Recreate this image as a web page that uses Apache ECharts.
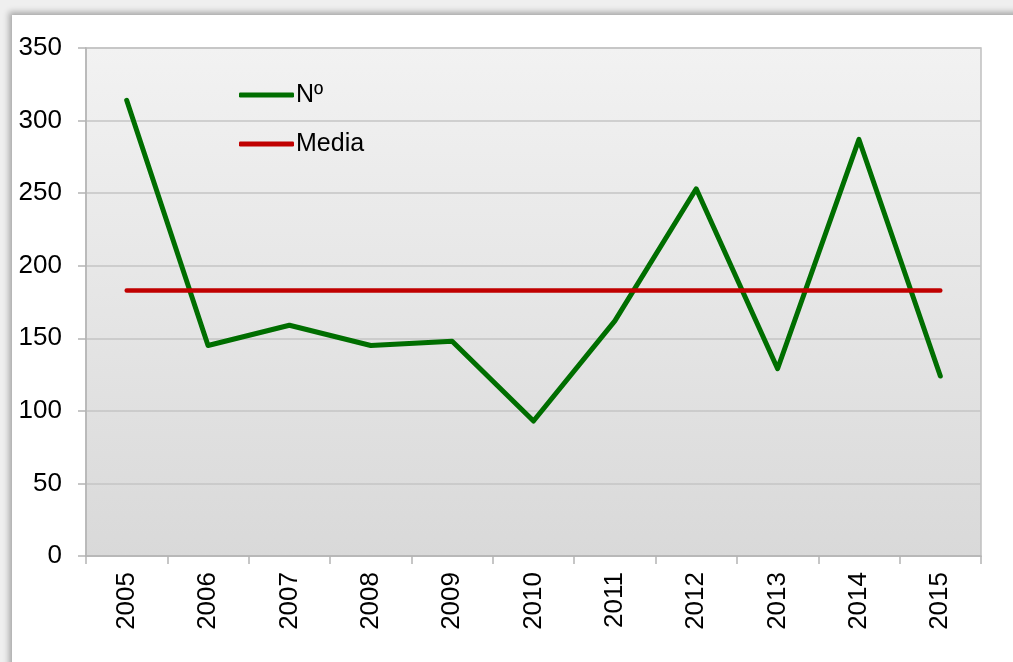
<!DOCTYPE html>
<html>
<head>
<meta charset="utf-8">
<script src="https://cdn.jsdelivr.net/npm/echarts@6/dist/echarts.min.js"></script>
<style>
  html, body { margin: 0; padding: 0; width: 1013px; height: 662px; overflow: hidden; background: #efefef; }
  #frame {
    position: absolute; left: 12px; top: 15px; width: 1010px; height: 660px;
    background: #fff;
    box-shadow: -3px -3px 6px rgba(0, 0, 0, 0.3);
  }
  #chart { position: absolute; left: -12px; top: -15px; width: 1013px; height: 662px; }
</style>
</head>
<body>
<div id="frame"><div id="chart"></div></div>
<script>
const years = ["2005", "2006", "2007", "2008", "2009", "2010", "2011", "2012", "2013", "2014", "2015"];
const numValues = [314, 145, 159, 145, 148, 93, 162, 253, 129, 287, 124];
const mediaValues = [183, 183, 183, 183, 183, 183, 183, 183, 183, 183, 183];
const yTicks = { min: 0, max: 350, interval: 50 };

const chart = echarts.init(document.getElementById("chart"));
const font = "'Liberation Sans', Arial, sans-serif";

const option = {
  animation: false,
  textStyle: { fontFamily: font },
  legend: {
    orient: "vertical",
    left: 234,
    top: 77,
    icon: "roundRect",
    itemWidth: 55,
    itemHeight: 5,
    itemGap: 23,
    textStyle: { fontSize: 25, lineHeight: 26, color: "#000", fontFamily: font, padding: [0, 0, 0, -3] },
    data: ["Nº", "Media"]
  },
  grid: {
    left: 86,
    right: 32,
    top: 48,
    bottom: 106,
    show: true,
    borderColor: "#c0c0c0",
    borderWidth: 1.5,
    backgroundColor: new echarts.graphic.LinearGradient(0, 0, 0, 1, [
      { offset: 0, color: "#f2f2f2" },
      { offset: 1, color: "#d9d9d9" }
    ])
  },
  xAxis: {
    type: "category",
    data: years,
    boundaryGap: true,
    axisLine: { lineStyle: { color: "#b4b4b4", width: 1.5 } },
    axisTick: { show: true, length: 8, inside: false, lineStyle: { color: "#b4b4b4", width: 1.5 } },
    axisLabel: { rotate: 90, fontSize: 26, color: "#000", margin: 16, fontFamily: font }
  },
  yAxis: {
    type: "value",
    min: yTicks.min,
    max: yTicks.max,
    interval: yTicks.interval,
    axisLine: { show: true, lineStyle: { color: "#b4b4b4", width: 1.5 } },
    axisTick: { show: true, length: 8, lineStyle: { color: "#b4b4b4", width: 1.5 } },
    axisLabel: { fontSize: 26, color: "#000", margin: 24, fontFamily: font },
    splitLine: { show: true, lineStyle: { color: "#c4c4c4", width: 1.5 } }
  },
  series: [
    {
      name: "Nº",
      type: "line",
      data: numValues,
      showSymbol: false,
      symbol: "none",
      itemStyle: { color: "#006e00" },
      lineStyle: { color: "#006e00", width: 5, cap: "round", join: "round" }
    },
    {
      name: "Media",
      type: "line",
      data: mediaValues,
      showSymbol: false,
      symbol: "none",
      itemStyle: { color: "#c00000" },
      lineStyle: { color: "#c00000", width: 4.5, cap: "round" }
    }
  ]
};

chart.setOption(option);
</script>
</body>
</html>
